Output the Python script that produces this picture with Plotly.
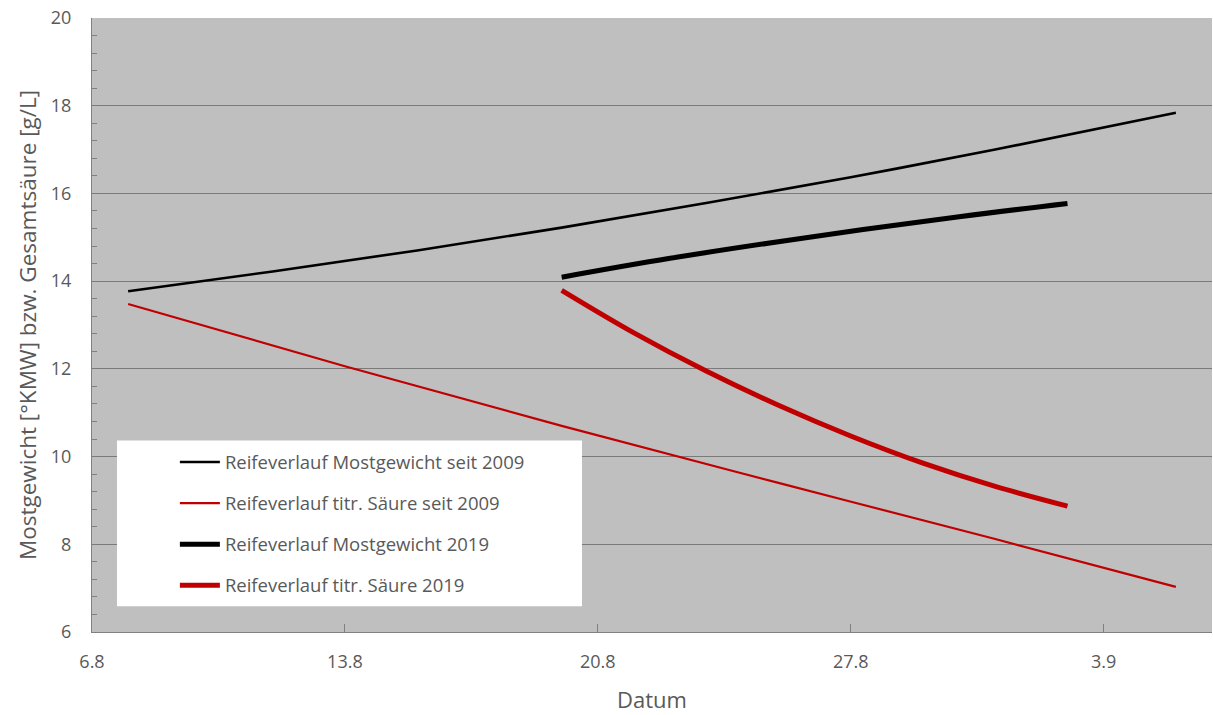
import plotly.graph_objects as go

# Reifeverlauf - Werte
dates_mg_avg = ["2019-08-07", "2019-08-11", "2019-08-15", "2019-08-19",
                "2019-08-23", "2019-08-27", "2019-08-31", "2019-09-05"]
mg_avg = [13.77, 14.22, 14.70, 15.22, 15.78, 16.37, 17.00, 17.84]

dates_s_avg = ["2019-08-07", "2019-08-13", "2019-08-19", "2019-08-25",
               "2019-08-31", "2019-09-05"]
s_avg = [13.48, 12.06, 10.70, 9.40, 8.12, 7.03]

dates_mg_2019 = ["2019-08-19", "2019-08-22", "2019-08-26", "2019-08-30", "2019-09-02"]
mg_2019 = [14.09, 14.52, 15.02, 15.47, 15.77]

dates_s_2019 = ["2019-08-19", "2019-08-21", "2019-08-23", "2019-08-25",
                "2019-08-27", "2019-08-29", "2019-08-31", "2019-09-02"]
s_2019 = [13.79, 12.82, 11.95, 11.17, 10.47, 9.85, 9.32, 8.87]

tick_dates = ["2019-08-06", "2019-08-13", "2019-08-20", "2019-08-27", "2019-09-03"]
tick_labels = ["6.8", "13.8", "20.8", "27.8", "3.9"]

GREY_TXT = "#595959"
RED = "#C00000"
FONT = "Open Sans"

fig = go.Figure()
series = [
    ("Reifeverlauf Mostgewicht seit 2009", dates_mg_avg, mg_avg, "black", 2.6),
    ("Reifeverlauf titr. Säure seit 2009", dates_s_avg, s_avg, RED, 2.2),
    ("Reifeverlauf Mostgewicht 2019", dates_mg_2019, mg_2019, "black", 5),
    ("Reifeverlauf titr. Säure 2019", dates_s_2019, s_2019, RED, 5),
]
for i, (name, xs, ys, col, w) in enumerate(series):
    fig.add_trace(go.Scatter(
        x=xs, y=ys, mode="lines", name=name, legendgroup=str(i),
        line=dict(color=col, width=w, shape="spline", smoothing=1.0),
    ))

# white legend box
fig.add_shape(type="rect", xref="x domain", yref="y domain",
              x0=0.0223, x1=0.4375, y0=0.042, y1=0.312,
              fillcolor="white", line=dict(width=0), layer="above")

fig.update_layout(
    width=1213, height=715,
    margin=dict(l=92, r=1, t=18, b=83, autoexpand=False),
    paper_bgcolor="white", plot_bgcolor="#BFBFBF",
    font=dict(family=FONT, color=GREY_TXT, size=16),
    showlegend=True,
    legend=dict(x=0.074, y=0.307, xanchor="left", yanchor="top",
                bgcolor="rgba(0,0,0,0)", traceorder="grouped",
                tracegroupgap=14, font=dict(size=18.5, color=GREY_TXT, family=FONT),
                itemwidth=40),
)
fig.update_xaxes(
    type="date", range=["2019-08-06", "2019-09-06"], automargin=False,
    tickvals=tick_dates, ticktext=tick_labels,
    ticks="inside", ticklen=8, tickcolor="#808080",
    showline=True, linecolor="#808080", linewidth=1,
    showgrid=False, zeroline=False,
    tickfont=dict(size=18, color=GREY_TXT), ticklabelstandoff=13,
    title=dict(text="Datum", font=dict(size=22, color=GREY_TXT), standoff=21),
)
fig.update_yaxes(
    range=[6, 20], dtick=2, tick0=6, automargin=False, ticklabeloverflow="allow",
    ticks="", showline=True, linecolor="#808080", linewidth=1,
    showgrid=True, gridcolor="#7a7a7a", gridwidth=1, zeroline=False,
    minor=dict(dtick=0.4, ticks="inside", ticklen=5, tickcolor="#808080", showgrid=False),
    tickfont=dict(size=18, color=GREY_TXT), ticklabelstandoff=16,
    title=dict(text="Mostgewicht [°KMW] bzw. Gesamtsäure [g/L]",
               font=dict(size=22.5, color=GREY_TXT), standoff=7),
)

# drop the default 8px page margin so the figure fills the window
fig.write_html("out.html", config={"displayModeBar": False},
               post_script="document.body.style.margin='0';")
